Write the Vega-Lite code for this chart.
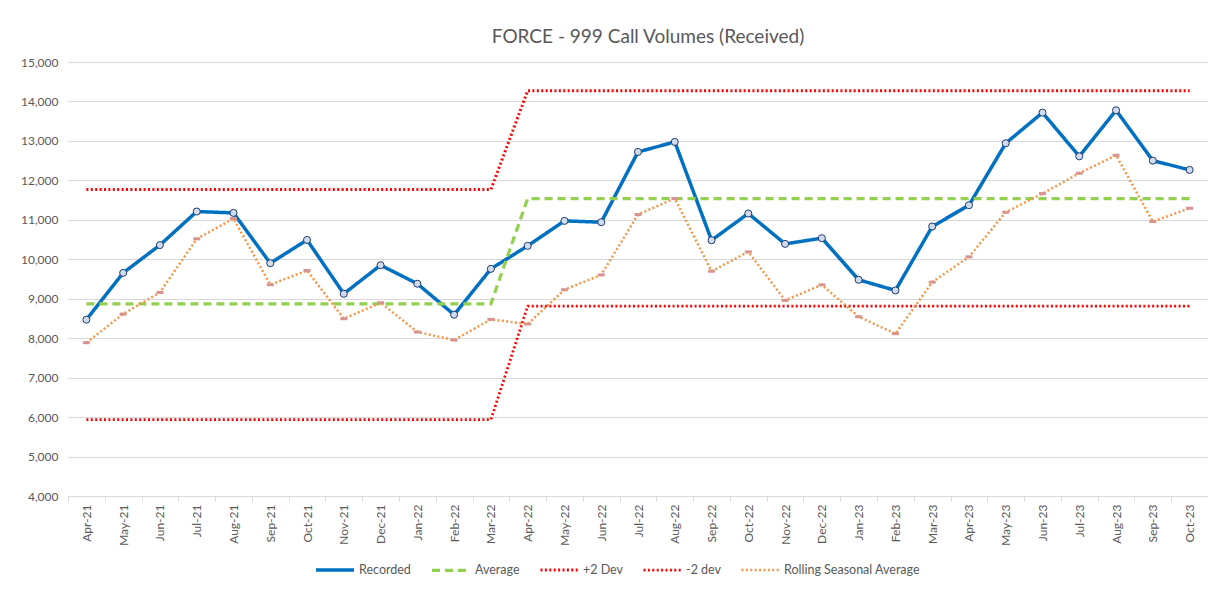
{
  "$schema": "https://vega.github.io/schema/vega-lite/v6.json",
  "autosize": {"type": "none"},
  "width": 1140,
  "height": 434,
  "padding": {"left": 68, "top": 62, "right": 0, "bottom": 96},
  "background": "white",
  "title": {
    "text": "FORCE - 999 Call Volumes (Received)",
    "font": "Lato",
    "fontSize": 19,
    "fontWeight": "normal",
    "color": "#595959",
    "anchor": "middle",
    "dx": 10,
    "offset": 9
  },
  "data": {
    "values": [
      {"month": "Apr-21", "Recorded": 8470, "Average": 8870, "+2 Dev": 11767, "-2 dev": 5935, "Rolling Seasonal Average": 7886},
      {"month": "May-21", "Recorded": 9655, "Average": 8870, "+2 Dev": 11767, "-2 dev": 5935, "Rolling Seasonal Average": 8612},
      {"month": "Jun-21", "Recorded": 10360, "Average": 8870, "+2 Dev": 11767, "-2 dev": 5935, "Rolling Seasonal Average": 9160},
      {"month": "Jul-21", "Recorded": 11210, "Average": 8870, "+2 Dev": 11767, "-2 dev": 5935, "Rolling Seasonal Average": 10517},
      {"month": "Aug-21", "Recorded": 11175, "Average": 8870, "+2 Dev": 11767, "-2 dev": 5935, "Rolling Seasonal Average": 11032},
      {"month": "Sep-21", "Recorded": 9900, "Average": 8870, "+2 Dev": 11767, "-2 dev": 5935, "Rolling Seasonal Average": 9355},
      {"month": "Oct-21", "Recorded": 10490, "Average": 8870, "+2 Dev": 11767, "-2 dev": 5935, "Rolling Seasonal Average": 9715},
      {"month": "Nov-21", "Recorded": 9125, "Average": 8870, "+2 Dev": 11767, "-2 dev": 5935, "Rolling Seasonal Average": 8493},
      {"month": "Dec-21", "Recorded": 9850, "Average": 8870, "+2 Dev": 11767, "-2 dev": 5935, "Rolling Seasonal Average": 8899},
      {"month": "Jan-22", "Recorded": 9380, "Average": 8870, "+2 Dev": 11767, "-2 dev": 5935, "Rolling Seasonal Average": 8156},
      {"month": "Feb-22", "Recorded": 8595, "Average": 8870, "+2 Dev": 11767, "-2 dev": 5935, "Rolling Seasonal Average": 7953},
      {"month": "Mar-22", "Recorded": 9757, "Average": 8870, "+2 Dev": 11767, "-2 dev": 5935, "Rolling Seasonal Average": 8477},
      {"month": "Apr-22", "Recorded": 10340, "Average": 11540, "+2 Dev": 14274, "-2 dev": 8814, "Rolling Seasonal Average": 8358},
      {"month": "May-22", "Recorded": 10973, "Average": 11540, "+2 Dev": 14274, "-2 dev": 8814, "Rolling Seasonal Average": 9228},
      {"month": "Jun-22", "Recorded": 10940, "Average": 11540, "+2 Dev": 14274, "-2 dev": 8814, "Rolling Seasonal Average": 9605},
      {"month": "Jul-22", "Recorded": 12720, "Average": 11540, "+2 Dev": 14274, "-2 dev": 8814, "Rolling Seasonal Average": 11133},
      {"month": "Aug-22", "Recorded": 12975, "Average": 11540, "+2 Dev": 14274, "-2 dev": 8814, "Rolling Seasonal Average": 11540},
      {"month": "Sep-22", "Recorded": 10483, "Average": 11540, "+2 Dev": 14274, "-2 dev": 8814, "Rolling Seasonal Average": 9698},
      {"month": "Oct-22", "Recorded": 11160, "Average": 11540, "+2 Dev": 14274, "-2 dev": 8814, "Rolling Seasonal Average": 10188},
      {"month": "Nov-22", "Recorded": 10390, "Average": 11540, "+2 Dev": 14274, "-2 dev": 8814, "Rolling Seasonal Average": 8958},
      {"month": "Dec-22", "Recorded": 10535, "Average": 11540, "+2 Dev": 14274, "-2 dev": 8814, "Rolling Seasonal Average": 9352},
      {"month": "Jan-23", "Recorded": 9480, "Average": 11540, "+2 Dev": 14274, "-2 dev": 8814, "Rolling Seasonal Average": 8544},
      {"month": "Feb-23", "Recorded": 9210, "Average": 11540, "+2 Dev": 14274, "-2 dev": 8814, "Rolling Seasonal Average": 8114},
      {"month": "Mar-23", "Recorded": 10830, "Average": 11540, "+2 Dev": 14274, "-2 dev": 8814, "Rolling Seasonal Average": 9420},
      {"month": "Apr-23", "Recorded": 11370, "Average": 11540, "+2 Dev": 14274, "-2 dev": 8814, "Rolling Seasonal Average": 10061},
      {"month": "May-23", "Recorded": 12940, "Average": 11540, "+2 Dev": 14274, "-2 dev": 8814, "Rolling Seasonal Average": 11193},
      {"month": "Jun-23", "Recorded": 13717, "Average": 11540, "+2 Dev": 14274, "-2 dev": 8814, "Rolling Seasonal Average": 11665},
      {"month": "Jul-23", "Recorded": 12610, "Average": 11540, "+2 Dev": 14274, "-2 dev": 8814, "Rolling Seasonal Average": 12180},
      {"month": "Aug-23", "Recorded": 13776, "Average": 11540, "+2 Dev": 14274, "-2 dev": 8814, "Rolling Seasonal Average": 12636},
      {"month": "Sep-23", "Recorded": 12500, "Average": 11540, "+2 Dev": 14274, "-2 dev": 8814, "Rolling Seasonal Average": 10956},
      {"month": "Oct-23", "Recorded": 12265, "Average": 11540, "+2 Dev": 14274, "-2 dev": 8814, "Rolling Seasonal Average": 11294}
    ]
  },
  "transform": [
    {"fold": ["Recorded", "Average", "+2 Dev", "-2 dev", "Rolling Seasonal Average"], "as": ["series", "value"]}
  ],
  "encoding": {
    "x": {
      "field": "month",
      "type": "ordinal",
      "sort": null,
      "scale": {"paddingInner": 0, "paddingOuter": 0},
      "axis": {
        "title": null,
        "labelAngle": -90,
        "labelAlign": "right",
        "labelBaseline": "middle",
        "labelPadding": 3,
        "tickBand": "extent",
        "tickSize": 5,
        "tickColor": "#d9d9d9",
        "domainColor": "#d9d9d9",
        "grid": false,
        "labelFont": "Lato",
        "labelFontSize": 12,
        "labelColor": "#595959"
      }
    },
    "y": {
      "field": "value",
      "type": "quantitative",
      "scale": {"domain": [4000, 15000], "nice": false, "zero": false},
      "axis": {
        "title": null,
        "values": [4000, 5000, 6000, 7000, 8000, 9000, 10000, 11000, 12000, 13000, 14000, 15000],
        "format": ",d",
        "domain": false,
        "ticks": false,
        "gridColor": "#d9d9d9",
        "labelPadding": 10,
        "labelFont": "Lato",
        "labelFontSize": 12,
        "labelColor": "#595959"
      }
    }
  },
  "layer": [
    {
      "mark": {"type": "line", "strokeJoin": "round"},
      "encoding": {
        "color": {
          "field": "series",
          "type": "nominal",
          "scale": {
            "domain": ["Recorded", "Average", "+2 Dev", "-2 dev", "Rolling Seasonal Average"],
            "range": ["#0070c0", "#92d050", "#ff0000", "#ff0000", "#f79646"]
          },
          "legend": {
            "title": null,
            "orient": "none",
            "legendX": 246,
            "legendY": 487,
            "direction": "horizontal",
            "symbolType": "stroke",
            "symbolSize": 1444,
            "labelOffset": 3,
            "columnPadding": 14,
            "labelFont": "Lato",
            "labelFontSize": 12.5,
            "labelColor": "#595959",
            "padding": 0
          }
        },
        "strokeDash": {
          "field": "series",
          "type": "nominal",
          "scale": {
            "domain": ["Recorded", "Average", "+2 Dev", "-2 dev", "Rolling Seasonal Average"],
            "range": [[1, 0], [8, 5], [2, 2.4], [2, 2.4], [2, 2.4]]
          }
        },
        "strokeWidth": {
          "field": "series",
          "type": "nominal",
          "scale": {
            "domain": ["Recorded", "Average", "+2 Dev", "-2 dev", "Rolling Seasonal Average"],
            "range": [3.5, 2.5, 2.5, 2.5, 2.2]
          }
        },
        "order": {"value": 0}
      }
    },
    {
      "transform": [{"filter": "datum.series === 'Rolling Seasonal Average'"}],
      "mark": {"type": "tick", "color": "#d8958f", "size": 7, "thickness": 3, "opacity": 1}
    },
    {
      "transform": [{"filter": "datum.series === 'Recorded'"}],
      "mark": {"type": "point", "shape": "circle", "filled": true, "fill": "#d0dcee", "stroke": "#1f3b6e", "strokeWidth": 1, "size": 50, "opacity": 1}
    }
  ],
  "config": {
    "view": {"stroke": null}
  }
}
